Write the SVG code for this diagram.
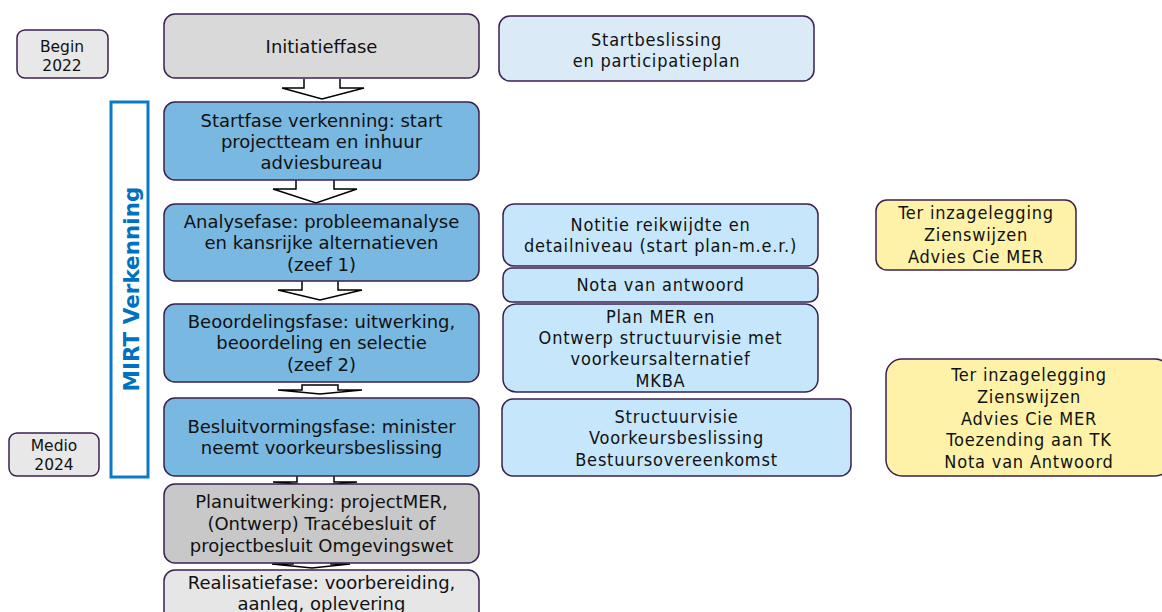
<svg xmlns="http://www.w3.org/2000/svg" width="1162" height="612" viewBox="0 0 1162 612">
<style>
.n{stroke:#3b2150;stroke-width:1.5}
.gray{fill:#d9d9d9}.lg{fill:#e8e8e8}.blue{fill:#79b8e0}.pb{fill:#daeaf6}.lb{fill:#c5e6fb}.yel{fill:#fdf2a8}.dg{fill:#c8c8c8}.vl{fill:#e6e6e6}
.t{font-family:"DejaVu Sans",Verdana,sans-serif;font-size:18px;fill:#111;text-anchor:middle}
.s{font-family:"DejaVu Sans",Verdana,sans-serif;font-size:15.5px;fill:#111;text-anchor:middle}
.c{font-family:"DejaVu Sans Condensed","DejaVu Sans",sans-serif;font-size:18px;letter-spacing:0.8px;fill:#111;text-anchor:middle}
.a{fill:#fff;stroke:#000;stroke-width:1.5;stroke-linejoin:miter}
</style>
<g id="connectors">
<path class="a" d="M304,79 V88 H282 L322,99 L364,88 H340 V79"/>
<path class="a" d="M296,180 V189 H273 L316,203 L357,189 H334 V180"/>
<path class="a" d="M302,281 V290 H278 L320,300 L362,290 H338 V281"/>
<path class="a" d="M302,385 V390 H278 L320,394 L362,390 H338 V385 Z"/>
<path class="a" d="M297,476 V482 H273 L315,486 L357,482 H334 V476"/>
<path class="a" d="M293,558 V564 H272 L312,568 L350,564 H331 V558"/>
</g>
<g id="begin2022"><rect class="n lg" x="17" y="30" width="91" height="48" rx="8"/><text class="s" x="62" y="52">Begin</text><text class="s" x="62" y="71">2022</text></g>
<g id="medio2024"><rect class="n lg" x="9" y="433" width="90" height="43" rx="8"/><text class="s" x="54" y="451">Medio</text><text class="s" x="54" y="470">2024</text></g>
<g id="mirt"><rect x="111" y="102" width="37" height="375" fill="#fff" stroke="#0a7ac8" stroke-width="3"/><text x="139" y="289" transform="rotate(-90 139 289)" font-family="'DejaVu Sans',Verdana,sans-serif" font-weight="bold" font-size="21.5" fill="#0070c0" text-anchor="middle">MIRT Verkenning</text></g>
<g id="initiatieffase"><rect class="n gray" x="164" y="14" width="315" height="64" rx="11"/><text class="t" x="321.5" y="53">Initiatieffase</text></g>
<g id="startfase"><rect class="n blue" x="164" y="102" width="315" height="78" rx="11"/><text class="t" x="321.5" y="127">Startfase verkenning: start</text><text class="t" x="321.5" y="148">projectteam en inhuur</text><text class="t" x="321.5" y="169">adviesbureau</text></g>
<g id="analysefase"><rect class="n blue" x="164" y="204" width="315" height="77" rx="11"/><text class="t" x="321.5" y="228">Analysefase: probleemanalyse</text><text class="t" x="321.5" y="249">en kansrijke alternatieven</text><text class="t" x="321.5" y="271">(zeef 1)</text></g>
<g id="beoordelingsfase"><rect class="n blue" x="164" y="304" width="315" height="78" rx="11"/><text class="t" x="321.5" y="328">Beoordelingsfase: uitwerking,</text><text class="t" x="321.5" y="349">beoordeling en selectie</text><text class="t" x="321.5" y="371">(zeef 2)</text></g>
<g id="besluitvormingsfase"><rect class="n blue" x="164" y="398" width="315" height="78" rx="11"/><text class="t" x="321.5" y="433">Besluitvormingsfase: minister</text><text class="t" x="321.5" y="454">neemt voorkeursbeslissing</text></g>
<g id="planuitwerking"><rect class="n dg" x="164" y="484" width="315" height="79" rx="11"/><text class="t" x="321.5" y="508">Planuitwerking: projectMER,</text><text class="t" x="321.5" y="530">(Ontwerp) Tracébesluit of</text><text class="t" x="321.5" y="552">projectbesluit Omgevingswet</text></g>
<g id="realisatiefase"><rect class="n vl" x="164" y="570" width="315" height="60" rx="11"/><text class="t" x="321.5" y="589">Realisatiefase: voorbereiding,</text><text class="t" x="321.5" y="610">aanleg, oplevering</text></g>
<g id="startbeslissing"><rect class="n pb" x="499" y="16" width="315" height="65" rx="11"/><text class="c" x="656.5" y="46">Startbeslissing</text><text class="c" x="656.5" y="67">en participatieplan</text></g>
<g id="notitie"><rect class="n lb" x="503" y="204" width="315" height="62" rx="11"/><text class="c" x="660.5" y="231">Notitie reikwijdte en</text><text class="c" x="660.5" y="252">detailniveau (start plan-m.e.r.)</text></g>
<g id="nota"><rect class="n lb" x="503" y="268" width="315" height="34" rx="9"/><text class="c" x="660.5" y="291">Nota van antwoord</text></g>
<g id="planmer"><rect class="n lb" x="503" y="304" width="315" height="88" rx="13"/><text class="c" x="660.5" y="323">Plan MER en</text><text class="c" x="660.5" y="344">Ontwerp structuurvisie met</text><text class="c" x="660.5" y="365">voorkeursalternatief</text><text class="c" x="660.5" y="387">MKBA</text></g>
<g id="structuurvisie"><rect class="n lb" x="502" y="399" width="349" height="77" rx="11"/><text class="c" x="676.5" y="423">Structuurvisie</text><text class="c" x="676.5" y="444">Voorkeursbeslissing</text><text class="c" x="676.5" y="466">Bestuursovereenkomst</text></g>
<g id="inzage1"><rect class="n yel" x="876" y="200" width="200" height="70" rx="11"/><text class="c" x="976" y="219">Ter inzagelegging</text><text class="c" x="976" y="241">Zienswijzen</text><text class="c" x="976" y="263">Advies Cie MER</text></g>
<g id="inzage2"><rect class="n yel" x="886" y="359" width="285" height="117" rx="16"/><text class="c" x="1029" y="381">Ter inzagelegging</text><text class="c" x="1029" y="403">Zienswijzen</text><text class="c" x="1029" y="425">Advies Cie MER</text><text class="c" x="1029" y="446">Toezending aan TK</text><text class="c" x="1029" y="468">Nota van Antwoord</text></g>
</svg>
